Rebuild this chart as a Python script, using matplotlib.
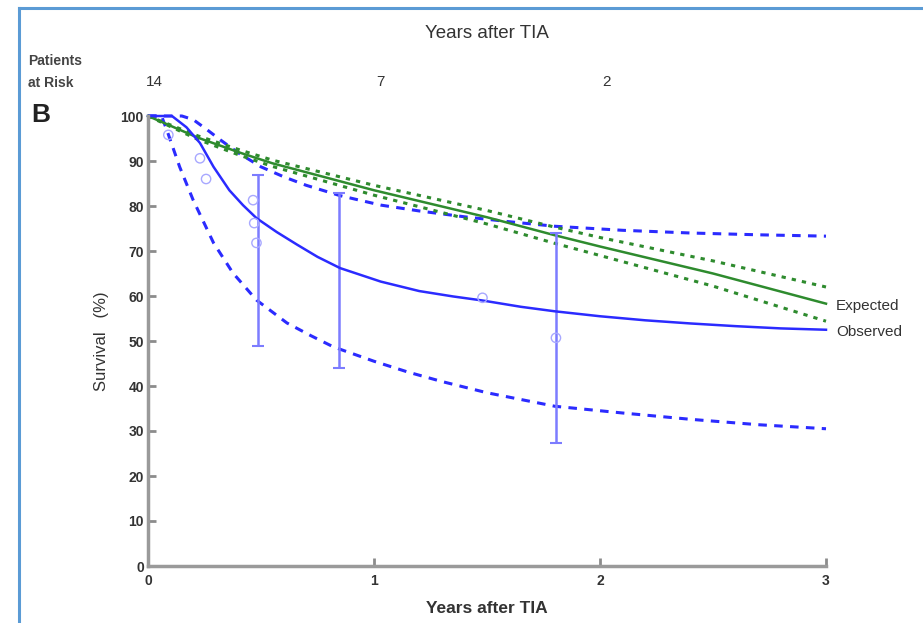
import numpy as np
import matplotlib
matplotlib.use("Agg")
from matplotlib import pyplot as plt
from matplotlib.lines import Line2D

plt.rcParams['font.family'] = ['Liberation Sans Narrow', 'Liberation Sans', 'DejaVu Sans']

# ---------------------------------------------------------------
# Data (survival in %, time in years after TIA)
# ---------------------------------------------------------------
obs_years = [0, 0.106, 0.17, 0.23, 0.29, 0.36, 0.42, 0.48, 0.57, 0.66, 0.75, 0.85, 1.03,
             1.2, 1.35, 1.48, 1.65, 1.8, 2.0, 2.2, 2.4, 2.6, 2.8, 3.0]
obs_surv = [100, 100, 97.5, 94, 88.7, 83.5, 80.2, 77.3, 74.2, 71.4, 68.7, 66.2, 63.2,
            61.1, 59.9, 59.0, 57.6, 56.6, 55.5, 54.6, 53.9, 53.3, 52.8, 52.5]

obs_up_years = [0, 0.1, 0.15, 0.2, 0.26, 0.32, 0.4, 0.5, 0.6, 0.7, 0.85, 1.03, 1.2, 1.4,
                1.6, 1.8, 2.1, 2.4, 2.7, 3.0]
obs_up_surv = [100, 100, 100, 99.2, 97, 94.7, 91.8, 88.7, 86.5, 84.6, 82.3, 80.2, 78.9, 77.6,
               76.5, 75.5, 74.6, 74.0, 73.6, 73.3]

obs_lo_years = [0, 0.06, 0.088, 0.14, 0.2, 0.29, 0.376, 0.48, 0.615, 0.72, 0.82, 1.0, 1.15,
                1.3, 1.5, 1.8, 2.1, 2.4, 2.7, 3.0]
obs_lo_surv = [100, 100, 96.2, 88.7, 81.3, 71.8, 65.1, 59.1, 54, 51.2, 48.7, 45.5, 43.1,
               41, 38.5, 35.5, 34.0, 32.6, 31.4, 30.5]

exp_years = [0, 0.22, 0.41, 0.55, 1.0, 1.5, 1.8, 2.0, 2.5, 3.0]
exp_surv = [100, 95.2, 91.8, 89.5, 83.5, 77.5, 73.5, 71, 65, 58.3]
exp_up_surv = [100, 95.6, 92.4, 90.2, 84.6, 79.0, 75.3, 73.0, 67.8, 62.0]
exp_lo_surv = [100, 94.8, 91.2, 88.8, 82.4, 76.0, 71.7, 69.0, 62.2, 54.4]

# error bars at selected times
err_years = [0.487, 0.845, 1.805]
err_mid = [77, 66, 56.5]
err_low = [49, 44, 27.3]
err_high = [87, 83, 74]

# individual observations (open circles)
pt_years = [0.09, 0.23, 0.257, 0.465, 0.47, 0.48, 1.48, 1.805]
pt_surv = [95.8, 90.6, 86, 81.3, 76.2, 71.8, 59.6, 50.7]

risk_years = [0, 1, 2]
risk_counts = ["14", "7", "2"]

y_ticks = list(range(0, 101, 10))
x_ticks = [0, 1, 2, 3]

# ---------------------------------------------------------------
# Figure
# ---------------------------------------------------------------
fig = plt.figure(figsize=(9.23, 6.23), dpi=100)
ax = fig.add_axes([148 / 923, 1 - 566 / 623, 678 / 923, 450 / 623])

blue = "#2b2bff"
green = "#2e8b2e"
dashed = (0, (2.8, 2.4))
dotted = (0, (1.4, 2.0))

ax.plot(obs_up_years, obs_up_surv, color=blue, lw=2.2, ls=dashed, clip_on=False)
ax.plot(obs_lo_years, obs_lo_surv, color=blue, lw=2.2, ls=dashed, clip_on=False)

ax.plot(exp_years, exp_up_surv, color=green, lw=2.2, ls=dotted, clip_on=False)
ax.plot(exp_years, exp_lo_surv, color=green, lw=2.2, ls=dotted, clip_on=False)
ax.plot(exp_years, exp_surv, color=green, lw=1.8, clip_on=False)

yerr = [np.array(err_mid) - np.array(err_low), np.array(err_high) - np.array(err_mid)]
ax.errorbar(err_years, err_mid, yerr=yerr, fmt="none", ecolor="#7c7cff",
            elinewidth=1.8, capsize=4, capthick=1.5)

ax.plot(obs_years, obs_surv, color=blue, lw=1.8, clip_on=False)

ax.scatter(pt_years, pt_surv, s=45, facecolors="none", edgecolors="#a8a8ff", linewidths=1.0, zorder=3)

ax.text(3.045, exp_surv[-1] - 0.6, "Expected", fontsize=11, color="#333333", va="center", ha="left")
ax.text(3.045, obs_surv[-1] - 0.6, "Observed", fontsize=11, color="#333333", va="center", ha="left")

ax.set_xlim(0, 3)
ax.set_ylim(0, 100)
ax.set_xticks(x_ticks)
ax.set_yticks(y_ticks)
ax.tick_params(direction="in", length=6, width=2, color="#8c8c8c",
               labelsize=10, labelcolor="#333333")
ax.tick_params(axis="x", pad=6)
ax.tick_params(axis="y", pad=3)
for lbl in ax.get_xticklabels() + ax.get_yticklabels():
    lbl.set_fontweight("bold")

for side in ["top", "right"]:
    ax.spines[side].set_visible(False)
for side in ["left", "bottom"]:
    ax.spines[side].set_color("#9a9a9a")
    ax.spines[side].set_linewidth(2.5)

ax.set_xlabel("Years after TIA", fontsize=12.5, color="#333333", fontweight="bold", labelpad=9)
ax.set_ylabel("Survival   (%)", fontsize=12, color="#333333", labelpad=8)

# patients at risk row and top axis title
for yr, n in zip(risk_years, risk_counts):
    ax.text(yr + 0.03, 1.075, n, transform=ax.get_xaxis_transform(),
            fontsize=11, color="#333333", ha="center", va="center")
ax.text(0.5, 1.183, "Years after TIA", transform=ax.transAxes,
        fontsize=13.5, color="#333333", ha="center", va="center")

fig.text(28 / 923, 1 - 61 / 623, "Patients", fontsize=10, fontweight="bold", color="#444444", va="center")
fig.text(28 / 923, 1 - 83 / 623, "at Risk", fontsize=10, fontweight="bold", color="#444444", va="center")
fig.text(31 / 923, 1 - 115 / 623, "B", fontsize=19, fontweight="bold", color="#222222", va="center")

# frame around the panel
border = "#5b9bd5"
fig.add_artist(Line2D([19 / 923, 19 / 923], [-0.05, 1 - 8 / 623], color=border, lw=2.2))
fig.add_artist(Line2D([19 / 923, 1.05], [1 - 8 / 623, 1 - 8 / 623], color=border, lw=2.2))

fig.savefig("out.png", dpi=100)
